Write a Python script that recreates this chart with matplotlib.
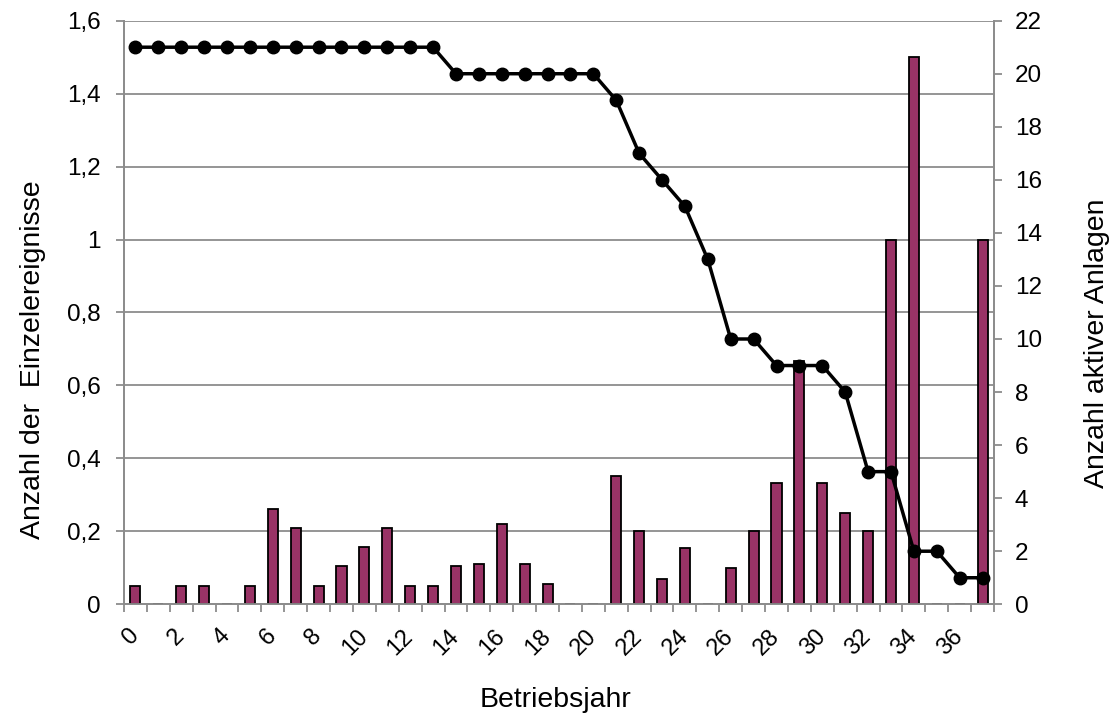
import numpy as np
import matplotlib.pyplot as plt
from matplotlib.ticker import FuncFormatter

plt.rcParams['font.family'] = ['Liberation Sans', 'DejaVu Sans']

jahre = list(range(38))
ereignisse = [0.05, 0, 0.05, 0.05, 0, 0.05, 0.26, 0.21, 0.05, 0.105,
              0.158, 0.21, 0.05, 0.05, 0.105, 0.11, 0.22, 0.11, 0.055, 0,
              0, 0.353, 0.2, 0.07, 0.154, 0, 0.1, 0.2, 0.333, 0.667,
              0.333, 0.25, 0.2, 1.0, 1.5, 0, 0, 1.0]
anlagen = [21] * 14 + [20] * 7 + [19, 17, 16, 15, 13, 10, 10, 9, 9, 9,
                                  8, 5, 5, 2, 2, 1, 1]
links_ticks = [0, 0.2, 0.4, 0.6, 0.8, 1.0, 1.2, 1.4, 1.6]
rechts_ticks = list(range(0, 23, 2))

grau = '#8c8c8c'

fig = plt.figure(figsize=(11.15, 7.13), dpi=100)
ax = fig.add_axes([0.1112, 0.1525, 0.7803, 0.8185])
ax2 = ax.twinx()

x = np.array(jahre)
ax.bar(x, ereignisse, width=0.44, color='#993366', edgecolor='black',
       linewidth=1.3, zorder=3)
ax.set_xlim(-0.5, len(jahre) - 0.5)
ax.set_ylim(0, 1.6)
ax.set_yticks(links_ticks)
ax.yaxis.set_major_formatter(FuncFormatter(
    lambda v, p: ('%g' % round(v, 1)).replace('.', ',')))
ax.grid(axis='y', color=grau, linewidth=1.3, zorder=0)

# category boundary ticks, labels every second year (slightly shifted left)
ax.set_xticks(np.arange(-0.5, len(jahre), 1.0))
ax.set_xticklabels([])
ax.set_xticks(x[::2] - 0.35, minor=True)
ax.set_xticklabels([str(j) for j in jahre[::2]], minor=True, rotation=45,
                   ha='right', va='top', rotation_mode='anchor', fontsize=17)
ax.tick_params(axis='x', which='minor', length=0, pad=15)
ax.tick_params(axis='x', which='major', length=6, color=grau, width=1.3)
ax.tick_params(axis='y', length=6, color=grau, width=1.3, labelsize=17.5,
               pad=11)

ax2.plot(x, anlagen, color='black', linewidth=2.5, marker='o',
         markersize=9, zorder=4)
ax2.set_ylim(0, 22)
ax2.set_yticks(rechts_ticks)
ax2.tick_params(axis='y', length=6, color=grau, width=1.3, labelsize=17.5,
                pad=9)

for a in (ax, ax2):
    a.spines['top'].set_visible(False)
    for s in ('left', 'right', 'bottom'):
        a.spines[s].set_color(grau)
        a.spines[s].set_linewidth(1.3)
ax.set_zorder(ax2.get_zorder() - 1)
ax.patch.set_visible(True)
ax2.patch.set_visible(False)

ax.set_xlabel('Betriebsjahr', fontsize=20.5, va='baseline')
ax.xaxis.set_label_coords(0.496, -0.1765)
ax.set_ylabel('Anzahl der  Einzelereignisse', fontsize=20.5, va='center')
ax.yaxis.set_label_coords(-0.1046, 0.4185)
ax2.set_ylabel('Anzahl aktiver Anlagen', fontsize=20.5, va='center')
ax2.yaxis.set_label_coords(1.118, 0.448)

fig.savefig('out.png', dpi=100)
